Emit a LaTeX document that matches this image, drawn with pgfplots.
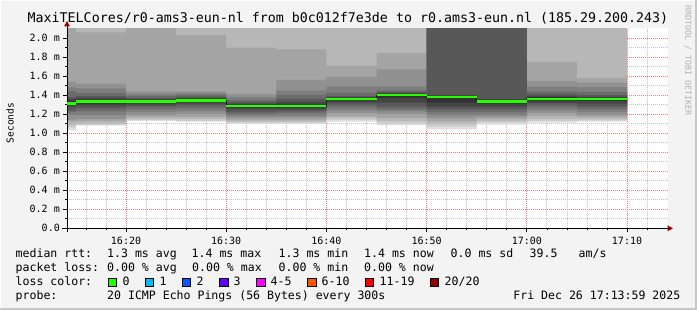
\documentclass[border=0pt]{standalone}
\usepackage{fontspec}
\setmainfont{DejaVu Sans Mono}
\usepackage{pgfplots}
\pgfplotsset{compat=1.18}
\usepackage{pgfplotstable}
\usepgfplotslibrary{fillbetween}
\pgfplotsset{
  layers/smokelayers/.define layer set={
    axis background,pre main,main,axis grid,axis ticks,axis lines,axis tick labels,axis descriptions,axis foreground
  }{},
}

\definecolor{bgc}{RGB}{243,243,243}
\definecolor{s1}{RGB}{221,221,221}
\definecolor{s2}{RGB}{202,202,202}
\definecolor{s3}{RGB}{183,183,183}
\definecolor{s4}{RGB}{164,164,164}
\definecolor{s5}{RGB}{145,145,145}
\definecolor{s6}{RGB}{126,126,126}
\definecolor{s7}{RGB}{107,107,107}
\definecolor{s8}{RGB}{88,88,88}
\definecolor{s9}{RGB}{69,69,69}
\definecolor{s10}{RGB}{50,50,50}
\definecolor{medgreen}{RGB}{38,255,0}
\definecolor{arrowred}{RGB}{160,0,0}
\definecolor{mgrid}{RGB}{255,120,120}
\definecolor{ngrid}{RGB}{195,195,195}
\definecolor{lc0}{RGB}{38,255,0}
\definecolor{lc1}{RGB}{0,184,255}
\definecolor{lc2}{RGB}{0,89,255}
\definecolor{lc3}{RGB}{94,0,255}
\definecolor{lc4}{RGB}{255,0,255}
\definecolor{lc5}{RGB}{255,85,0}
\definecolor{lc6}{RGB}{255,0,0}
\definecolor{lc7}{RGB}{140,0,0}

% time in minutes after 16:00; m = median; l1..l10 / h1..h10 = smoke band bounds (ms)
\pgfplotstableread{
t     m     l1    l2    l3    l4    l5    l6    l7    l8    l9    l10   h1 h2 h3 h4   h5   h6   h7   h8   h9    h10
14.11 1.31  1.03  1.06  1.085 1.12  1.14  1.19  1.22  1.24  1.28  1.30  3  3  3  3    1.54 1.48 1.44 1.38 1.36  1.34
15    1.33  1.08  1.09  1.10  1.13  1.15  1.19  1.23  1.26  1.29  1.31  3  3  3  2.06 1.52 1.47 1.42 1.39 1.37  1.35
20    1.33  1.13  1.14  1.15  1.17  1.19  1.22  1.25  1.28  1.30  1.315 3  3  3  3    1.44 1.41 1.39 1.37 1.36  1.345
25    1.345 1.12  1.13  1.15  1.17  1.20  1.23  1.26  1.29  1.31  1.33  3  3  3  2.03 1.44 1.42 1.40 1.385 1.37 1.36
30    1.285 1.10  1.11  1.12  1.14  1.16  1.18  1.20  1.22  1.25  1.27  3  3  3  1.90 1.41 1.38 1.35 1.33 1.31  1.30
35    1.285 1.10  1.11  1.12  1.14  1.16  1.18  1.21  1.23  1.25  1.27  3  3  3  1.88 1.56 1.45 1.40 1.36 1.33  1.30
40    1.36  1.12  1.14  1.16  1.18  1.21  1.24  1.27  1.30  1.32  1.345 3  3  3  1.71 1.59 1.49 1.42 1.39 1.38  1.37
45    1.40  1.085 1.10  1.13  1.16  1.20  1.23  1.25  1.28  1.32  1.37  3  3  3  1.84 1.67 1.49 1.45 1.43 1.42  1.41
50    1.38  1.04  1.07  1.10  1.13  1.16  1.19  1.22  1.25  1.28  1.32  3  3  3  3    3    3    3    3    1.40  1.39
55    1.335 1.09  1.11  1.13  1.15  1.17  1.19  1.22  1.25  1.28  1.31  3  3  3  3    3    3    3    3    1.36  1.35
60    1.36  1.11  1.13  1.15  1.18  1.21  1.24  1.27  1.30  1.32  1.345 3  3  3  1.75 1.55 1.49 1.44 1.41 1.39  1.375
65    1.36  1.12  1.135 1.15  1.17  1.19  1.22  1.25  1.28  1.31  1.34  3  3  3  1.58 1.53 1.48 1.43 1.40 1.385 1.37
70    1.36  1.12  1.135 1.15  1.17  1.19  1.22  1.25  1.28  1.31  1.34  3  3  3  1.58 1.53 1.48 1.43 1.40 1.385 1.37
}\smoke

\newcommand{\lf}{\fontsize{11.55bp}{13bp}\selectfont}
\newcommand{\tf}{\fontsize{10bp}{12bp}\selectfont}

\begin{document}
\begin{tikzpicture}
\fill[bgc] (0,0) rectangle (697bp,310bp);
\fill[white] (0,0) rectangle (1bp,310bp);
\fill[white] (0,309bp) rectangle (697bp,310bp);
\fill[black!22] (695bp,0) rectangle (697bp,310bp);
\fill[black!22] (0,0) rectangle (697bp,2bp);
\fill[white] (67bp,81.7bp) rectangle (668bp,281.5bp);

\begin{axis}[
  set layers=smokelayers,
  scale only axis, width=601bp, height=199.8bp,
  at={(67bp,81.7bp)}, anchor=south west,
  xmin=14.11, xmax=74.09, ymin=0, ymax=2.1,
  axis line style={draw=none},
  xtick={20,30,40,50,60,70},
  xticklabels={16:20,16:30,16:40,16:50,17:00,17:10},
  minor xtick={16,18,22,24,26,28,32,34,36,38,42,44,46,48,52,54,56,58,62,64,66,68,72},
  ytick={0,0.2,0.4,0.6,0.8,1.0,1.2,1.4,1.6,1.8,2.0},
  yticklabels={0.0,0.2 m,0.4 m,0.6 m,0.8 m,1.0 m,1.2 m,1.4 m,1.6 m,1.8 m,2.0 m},
  minor ytick={0.1,0.3,0.5,0.7,0.9,1.1,1.3,1.5,1.7,1.9},
  grid=both,
  major grid style={draw=mgrid, dash pattern=on 1bp off 1bp, line width=0.8bp},
  minor grid style={draw=ngrid, dash pattern=on 1bp off 1bp, line width=0.8bp},
  xtick pos=bottom, ytick pos=left,
  tick align=outside, major tick length=4bp, minor tick length=2bp,
  every tick/.style={black, line width=0.7bp},
  xticklabel style={font=\tf, inner sep=0pt, anchor=north, yshift=-5bp},
  yticklabel style={font=\tf, inner sep=0pt, anchor=east, xshift=-3bp},
  fill between/on layer=main,
]
\pgfplotsinvokeforeach{1,2,3,4,5,6,7,8,9,10}{
  \addplot[name path=h#1, draw=none, const plot mark left, forget plot] table[x=t, y=h#1] {\smoke};
  \addplot[name path=l#1, draw=none, const plot mark left, forget plot] table[x=t, y=l#1] {\smoke};
  \addplot[fill=s#1, draw=none, forget plot] fill between[of=h#1 and l#1];
}
\addplot[on layer=axis foreground, const plot mark left, draw={rgb,255:red,32;green,32;blue,32}, line width=1bp, forget plot] table[x=t, y=m] {\smoke};
\addplot[on layer=axis foreground, jump mark left, draw=medgreen, line width=2.8bp, forget plot] table[x=t, y=m] {\smoke};
\end{axis}

\begin{scope}[x=1bp, y=-1bp, shift={(0,310bp)}]
  % axes
  \draw[black, line width=1bp] (62,228.3) -- (668,228.3);
  \draw[black, line width=1bp] (67,232) -- (67,26);
  \fill[arrowred] (667.5,225.3) -- (673,228.3) -- (667.5,231.3) -- cycle;
  \fill[arrowred] (64,26.5) -- (67,21) -- (70,26.5) -- cycle;
  % title
  \node[anchor=base west, inner sep=0pt, font=\fontsize{13.3bp}{15bp}\selectfont] at (27.5,23)
    {MaxiTELCores/r0-ams3-eun-nl from b0c012f7e3de to r0.ams3-eun.nl (185.29.200.243)};
  \node[rotate=90, inner sep=0pt, font=\fontsize{9.5bp}{11bp}\selectfont] at (10,123) {Seconds};
  \node[rotate=-90, inner sep=0pt, anchor=west, text=black!30, font=\fontsize{8.3bp}{9bp}\selectfont] at (688,5) {RRDTOOL / TOBI OETIKER};
  % legend row 1
  \node[anchor=base west, inner sep=0pt, font=\lf] at (15.5,258) {median rtt:};
  \node[anchor=base west, inner sep=0pt, font=\lf] at (107,258) {1.3 ms avg};
  \node[anchor=base west, inner sep=0pt, font=\lf] at (191.5,258) {1.4 ms max};
  \node[anchor=base west, inner sep=0pt, font=\lf] at (278.5,258) {1.3 ms min};
  \node[anchor=base west, inner sep=0pt, font=\lf] at (364,258) {1.4 ms now};
  \node[anchor=base west, inner sep=0pt, font=\lf] at (450.5,258) {0.0 ms sd};
  \node[anchor=base west, inner sep=0pt, font=\lf] at (529.5,258) {39.5};
  \node[anchor=base west, inner sep=0pt, font=\lf] at (578.5,258) {am/s};
  % legend row 2
  \node[anchor=base west, inner sep=0pt, font=\lf] at (15.5,272) {packet loss:};
  \node[anchor=base west, inner sep=0pt, font=\lf] at (107,272) {0.00 \% avg};
  \node[anchor=base west, inner sep=0pt, font=\lf] at (192,272) {0.00 \% max};
  \node[anchor=base west, inner sep=0pt, font=\lf] at (278.5,272) {0.00 \% min};
  \node[anchor=base west, inner sep=0pt, font=\lf] at (364,272) {0.00 \% now};
  % legend row 3
  \node[anchor=base west, inner sep=0pt, font=\lf] at (15.5,286) {loss color:};
  \foreach \bx/\c/\lab/\lx in {108/lc0/0/122.5, 145/lc1/1/159.5, 182/lc2/2/196.5, 219.5/lc3/3/233.5, 256.5/lc4/4-5/270.5, 307.5/lc5/6-10/321.5, 365/lc6/11-19/379.5, 430/lc7/20\slash 20/444.5}{
    \filldraw[fill=\c, draw=black, line width=0.8bp] (\bx,278) rectangle ++(8.5,8.5);
    \node[anchor=base west, inner sep=0pt, font=\lf] at (\lx,286) {\lab};
  }
  % legend row 4
  \node[anchor=base west, inner sep=0pt, font=\lf] at (15.5,300) {probe:};
  \node[anchor=base west, inner sep=0pt, font=\lf] at (107,300) {20 ICMP Echo Pings (56 Bytes) every 300s};
  \node[anchor=base east, inner sep=0pt, font=\lf] at (680.5,300) {Fri Dec 26 17:13:59 2025};
\end{scope}
\pgfresetboundingbox
\useasboundingbox (0,0) rectangle (697bp,310bp);
\end{tikzpicture}
\end{document}
